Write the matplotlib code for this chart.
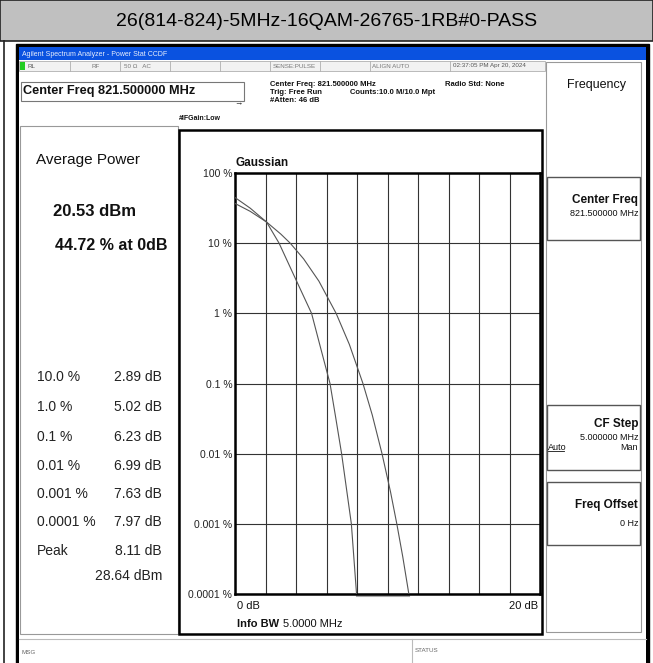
import matplotlib.pyplot as plt
from matplotlib.patches import Rectangle
from matplotlib.transforms import offset_copy

plt.rcParams['font.family'] = ['Liberation Sans', 'DejaVu Sans']

# CCDF of the measured signal (power above average in dB, probability in %)
meas_db = [0.0, 1.0, 2.07, 2.89, 4.0, 5.02, 5.6, 6.23, 6.6, 6.99, 7.63, 7.97]
meas_pct = [44.72, 31.5, 20.0, 10.0, 3.0, 1.0, 0.33, 0.1, 0.033, 0.01, 0.001, 0.0001]

# Gaussian reference trace
gauss_db = [0.0, 1.0, 2.07, 3.0, 3.62, 4.5, 5.5, 6.63, 7.5, 8.39, 9.0, 9.64, 10.2, 10.61, 11.0, 11.4]
gauss_pct = [36.8, 28.4, 20.0, 13.5, 10.0, 5.97, 2.88, 1.0, 0.36, 0.1, 0.0356, 0.01, 0.00284, 0.001, 0.00034, 0.0001]

# Summary table on the left
stat_levels = ['10.0 %', '1.0 %', '0.1 %', '0.01 %', '0.001 %', '0.0001 %', 'Peak']
stat_values = ['2.89 dB', '5.02 dB', '6.23 dB', '6.99 dB', '7.63 dB', '7.97 dB', '8.11 dB']
avg_power = '20.53 dBm'
avg_pct = '44.72 % at 0dB'
peak_dbm = '28.64 dBm'

y_ticks = [100, 10, 1, 0.1, 0.01, 0.001, 0.0001]
y_ticklabels = ['100 %', '10 %', '1 %', '0.1 %', '0.01 %', '0.001 %', '0.0001 %']

W, H = 653, 663
fig = plt.figure(figsize=(W / 100, H / 100), dpi=100)

# canvas in pixel coordinates for the frame, panels and labels
bg = fig.add_axes([0, 0, 1, 1])
bg.set_xlim(0, W)
bg.set_ylim(H, 0)
bg.axis('off')


def box(x0, y0, x1, y1, fc='none', ec='#808080', lw=1.0, z=1):
    bg.add_patch(Rectangle((x0, y0), x1 - x0, y1 - y0, fc=fc, ec=ec, lw=lw, zorder=z))


def txt(x, y, s, size=8, ha='left', weight='normal', color='#111111', z=5):
    bg.text(x, y, s, fontsize=size, ha=ha, va='center', fontweight=weight, color=color, zorder=z)


# report table header
box(0, 0, W, 41, fc='#c0c0c0', ec='#222222', lw=1.2)
txt(W / 2, 21, '26(814-824)-5MHz-16QAM-26765-1RB#0-PASS', size=14, ha='center', color='#000000')
bg.plot([4, 4], [41, H], color='#222222', lw=1.2)

# instrument window
box(16, 44, 649, H + 2, fc='#000000', ec='#000000', z=1)
box(19, 47, 646, 60, fc='#0a52e0', ec='none', z=2)
txt(22, 54, 'Agilent Spectrum Analyzer - Power Stat CCDF', size=5, color='#e8eefc', z=3)
box(19, 60, 646, H + 2, fc='#ffffff', ec='none', z=2)

# status row
box(19, 61, 545, 71, fc='#f2f2f2', ec='#b0b0b0', lw=0.6, z=3)
for xd in [70, 120, 170, 220, 270, 320, 370, 450]:
    bg.plot([xd, xd], [61, 71], color='#b0b0b0', lw=0.6, zorder=4)
box(20, 62, 25, 70, fc='#22cc22', ec='none', z=4)
txt(27, 66, 'RL', size=4.5, color='#555555', z=4)
txt(92, 66, 'RF', size=4.5, color='#777777', z=4)
txt(124, 66, '50 \u03a9   AC', size=4.5, color='#777777', z=4)
txt(273, 66, 'SENSE:PULSE', size=4.5, color='#777777', z=4)
txt(372, 66, 'ALIGN AUTO', size=4.5, color='#777777', z=4)
txt(453, 66, '02:37:05 PM Apr 20, 2024', size=4.5, color='#555555', z=4)

box(21, 82, 244, 101, fc='#ffffff', ec='#777777', lw=0.8, z=3)
txt(23, 91, 'Center Freq 821.500000 MHz', size=9.2, weight='bold', z=4)
txt(270, 84, 'Center Freq: 821.500000 MHz', size=5.5, weight='bold', z=4)
txt(270, 92, 'Trig: Free Run', size=5.5, weight='bold', z=4)
txt(270, 100, '#Atten: 46 dB', size=5.5, weight='bold', z=4)
txt(350, 92, 'Counts:10.0 M/10.0 Mpt', size=5.5, weight='bold', z=4)
txt(445, 84, 'Radio Std: None', size=5.5, weight='bold', z=4)
txt(179, 119, '#IFGain:Low', size=5, weight='bold', z=4)
txt(238, 104, '\u2192', size=6, ha='center', z=4)

# left measurement panel
box(20, 126, 178, 634, fc='#ffffff', ec='#999999', lw=0.8, z=3)
txt(36, 160, 'Average Power', size=11, z=4)
txt(53, 212, avg_power, size=12, weight='bold', z=4)
txt(55, 246, avg_pct, size=11.5, weight='bold', z=4)
row_y = [377, 407, 437, 466, 494, 522, 551]
for y, lab, val in zip(row_y, stat_levels, stat_values):
    txt(37, y, lab, size=10, color='#222222', z=4)
    txt(162, y, val, size=10, ha='right', color='#222222', z=4)
txt(162, 576, peak_dbm, size=10, ha='right', color='#222222', z=4)

# graph box
box(179, 130, 542, 634, fc='#ffffff', ec='#000000', lw=1.8, z=3)
txt(236, 163, 'Gaussian', size=8.5, weight='bold', z=4)
txt(237, 606, '0 dB', size=8, z=4)
txt(538, 606, '20 dB', size=8, ha='right', z=4)
txt(237, 624, 'Info BW', size=8, weight='bold', z=4)
txt(283, 624, '5.0000 MHz', size=8, z=4)

# softkey panel
box(546, 62, 641, 632, fc='#ffffff', ec='#999999', lw=0.8, z=3)
txt(597, 85, 'Frequency', size=9, ha='center', z=4)
box(547, 177, 640, 240, fc='#ffffff', ec='#555555', lw=1.0, z=4)
txt(638, 200, 'Center Freq', size=8.5, ha='right', weight='bold', z=5)
txt(638, 214, '821.500000 MHz', size=6.5, ha='right', z=5)
box(547, 405, 640, 470, fc='#ffffff', ec='#555555', lw=1.0, z=4)
txt(638, 424, 'CF Step', size=8.5, ha='right', weight='bold', z=5)
txt(638, 437, '5.000000 MHz', size=6.5, ha='right', z=5)
txt(548, 447, 'Auto', size=6.5, z=5)
bg.plot([548, 564], [451, 451], color='#111111', lw=0.6, zorder=5)
txt(638, 447, 'Man', size=6.5, ha='right', z=5)
box(547, 482, 640, 545, fc='#ffffff', ec='#555555', lw=1.0, z=4)
txt(638, 505, 'Freq Offset', size=8.5, ha='right', weight='bold', z=5)
txt(638, 523, '0 Hz', size=6.5, ha='right', z=5)

# message bar
bg.plot([19, 646], [639, 639], color='#bbbbbb', lw=0.8, zorder=4)
bg.plot([412, 412], [639, H], color='#bbbbbb', lw=0.8, zorder=4)
txt(21, 653, 'MSG', size=4.5, color='#666666', z=4)
txt(415, 651, 'STATUS', size=4.5, color='#666666', z=4)

# CCDF plot
ax = fig.add_axes([235 / W, (H - 594) / H, 305 / W, (594 - 173) / H])
ax.set_yscale('log')
ax.set_xlim(0, 20)
ax.set_ylim(0.0001, 100)
ax.set_xticks(range(0, 21, 2))
ax.set_xticklabels([])
ax.set_yticks(y_ticks)
ax.set_yticklabels(y_ticklabels, fontsize=7.5, color='#222222')
ax.minorticks_off()
ax.tick_params(length=0, pad=2)
ax.grid(True, color='#333333', lw=0.8)
for sp in ax.spines.values():
    sp.set_linewidth(1.8)
    sp.set_color('#000000')

ax.plot(gauss_db, gauss_pct, color='#555555', lw=0.8, zorder=3)
ax.plot(meas_db, meas_pct, color='#555555', lw=0.8, zorder=3)
floor = offset_copy(ax.transData, fig=fig, x=0, y=-2, units='dots')
ax.plot([meas_db[-1], gauss_db[-1]], [meas_pct[-1], gauss_pct[-1]],
        color='#aaaaaa', lw=1.5, transform=floor, clip_on=False)

fig.savefig('out.png', dpi=100)
